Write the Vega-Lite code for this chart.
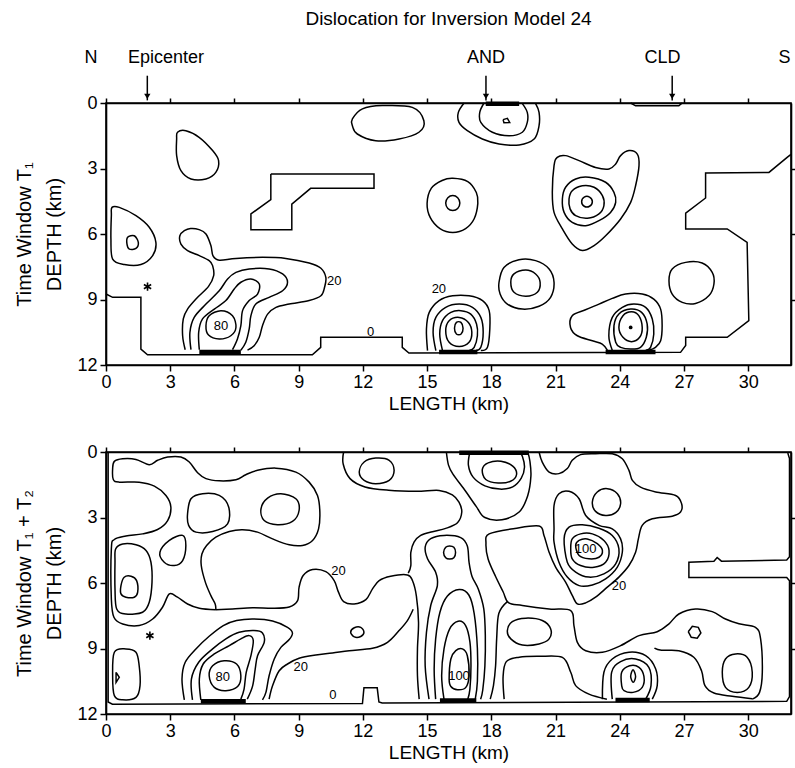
{
"$schema":"https://vega.github.io/schema/vega-lite/v6.json",
"background":"white",
"padding":{"left":14,"top":8,"right":0,"bottom":5},
"config":{"view":{"stroke":"black","strokeWidth":1.6},"axis":{"grid":false,"domainColor":"black","domainWidth":1.6,"tickColor":"black","tickWidth":1.5,"labelColor":"black","titleColor":"black","labelFont":"Liberation Sans","titleFont":"Liberation Sans","titleFontWeight":"normal","labelFlush":false,"labelOverlap":false},"text":{"font":"Liberation Sans","color":"black"}},
"datasets":{
"ann":[{"t":"N","x":-0.7,"y":-2.08},{"t":"Epicenter","x":2.8,"y":-2.08},{"t":"AND","x":17.75,"y":-2.08},{"t":"CLD","x":26.0,"y":-2.08},{"t":"S","x":31.7,"y":-2.08}],
"arrows":[{"x":1.93,"y":-1.25,"y2":-0.12},{"x":17.75,"y":-1.25,"y2":-0.12},{"x":26.45,"y":-1.25,"y2":-0.12}],
"t_poly":[
{"c":"p1","x":0,"y":8.75},{"c":"p1","x":0.31,"y":8.9},{"c":"p1","x":1.63,"y":8.9},{"c":"p1","x":1.63,"y":11.27},{"c":"p1","x":1.94,"y":11.53},{"c":"p1","x":9.64,"y":11.53},{"c":"p1","x":10.03,"y":11.19},{"c":"p1","x":10.03,"y":10.73},{"c":"p1","x":13.84,"y":10.73},{"c":"p1","x":13.84,"y":11.19},{"c":"p1","x":14.15,"y":11.45},{"c":"p1","x":26.84,"y":11.42},{"c":"p1","x":27.08,"y":11.11},{"c":"p1","x":27.08,"y":10.73},{"c":"p1","x":29.02,"y":10.73},{"c":"p1","x":30.03,"y":9.97},{"c":"p1","x":29.95,"y":6.38},{"c":"p1","x":29.02,"y":5.77},{"c":"p1","x":27.08,"y":5.77},{"c":"p1","x":27.08,"y":5.04},{"c":"p1","x":28.01,"y":4.35},{"c":"p1","x":28.01,"y":3.21},{"c":"p1","x":30.97,"y":3.18},{"c":"p1","x":31.82,"y":2.49},{"c":"p1","x":32,"y":2.35},
{"c":"p2","x":7.7,"y":3.25},{"c":"p2","x":12.52,"y":3.25},{"c":"p2","x":12.52,"y":3.91},{"c":"p2","x":9.56,"y":3.91},{"c":"p2","x":8.68,"y":4.63},{"c":"p2","x":8.68,"y":5.8},{"c":"p2","x":6.77,"y":5.8},{"c":"p2","x":6.77,"y":5.08},{"c":"p2","x":7.7,"y":4.43},{"c":"p2","x":7.7,"y":3.25},
{"c":"p3","x":24.51,"y":0},{"c":"p3","x":24.74,"y":0.13},{"c":"p3","x":26.76,"y":0.13},{"c":"p3","x":26.92,"y":0},
{"c":"p4","x":18.55,"y":0.76},{"c":"p4","x":18.75,"y":0.7},{"c":"p4","x":18.86,"y":0.89},{"c":"p4","x":18.59,"y":0.9},{"c":"p4","x":18.55,"y":0.76}],
"t_closed":[
{"c":"a","x":11.51,"y":0.73},{"c":"a","x":11.98,"y":0.27},{"c":"a","x":12.91,"y":0.12},{"c":"a","x":14.31,"y":0.2},{"c":"a","x":14.85,"y":0.81},{"c":"a","x":14.62,"y":1.34},{"c":"a","x":13.69,"y":1.65},{"c":"a","x":12.6,"y":1.73},{"c":"a","x":11.74,"y":1.42},{"c":"a","x":11.51,"y":1.04},
{"c":"b","x":3.34,"y":1.34},{"c":"b","x":3.73,"y":1.27},{"c":"b","x":4.35,"y":1.57},{"c":"b","x":4.98,"y":2.18},{"c":"b","x":5.26,"y":2.64},{"c":"b","x":5.13,"y":3.18},{"c":"b","x":4.67,"y":3.48},{"c":"b","x":3.97,"y":3.48},{"c":"b","x":3.5,"y":3.1},{"c":"b","x":3.3,"y":2.41},{"c":"b","x":3.3,"y":1.65},
{"c":"d","x":0.28,"y":4.78},{"c":"d","x":0.62,"y":4.78},{"c":"d","x":1.4,"y":5.16},{"c":"d","x":2.02,"y":5.69},{"c":"d","x":2.33,"y":6.38},{"c":"d","x":2.18,"y":6.99},{"c":"d","x":1.63,"y":7.4},{"c":"d","x":0.86,"y":7.4},{"c":"d","x":0.31,"y":7.15},{"c":"d","x":0.23,"y":6.23},{"c":"d","x":0.25,"y":5.16},
{"c":"e","x":1.01,"y":6.15},{"c":"e","x":1.32,"y":6.08},{"c":"e","x":1.51,"y":6.38},{"c":"e","x":1.4,"y":6.66},{"c":"e","x":1.09,"y":6.69},{"c":"e","x":0.98,"y":6.46},
{"c":"f","x":4.67,"y":10.2},{"c":"f","x":4.82,"y":9.74},{"c":"f","x":5.37,"y":9.51},{"c":"f","x":5.91,"y":9.74},{"c":"f","x":6.07,"y":10.28},{"c":"f","x":5.83,"y":10.66},{"c":"f","x":5.29,"y":10.81},{"c":"f","x":4.79,"y":10.63},
{"c":"g","x":15.87,"y":10.43},{"c":"g","x":16.03,"y":9.97},{"c":"g","x":16.5,"y":9.82},{"c":"g","x":16.93,"y":10.05},{"c":"g","x":17.09,"y":10.5},{"c":"g","x":16.96,"y":10.96},{"c":"g","x":16.5,"y":11.15},{"c":"g","x":16.03,"y":10.96},
{"c":"h","x":16.28,"y":10.32},{"c":"h","x":16.37,"y":10.05},{"c":"h","x":16.58,"y":10.05},{"c":"h","x":16.68,"y":10.32},{"c":"h","x":16.59,"y":10.58},{"c":"h","x":16.37,"y":10.58},
{"c":"i","x":23.96,"y":10.28},{"c":"i","x":24.15,"y":9.74},{"c":"i","x":24.55,"y":9.56},{"c":"i","x":24.89,"y":9.74},{"c":"i","x":25.05,"y":10.28},{"c":"i","x":24.93,"y":10.73},{"c":"i","x":24.55,"y":10.93},{"c":"i","x":24.15,"y":10.73},
{"c":"j","x":23.81,"y":10.96},{"c":"j","x":23.73,"y":10.2},{"c":"j","x":23.96,"y":9.66},{"c":"j","x":24.51,"y":9.44},{"c":"j","x":25.02,"y":9.59},{"c":"j","x":25.28,"y":10.12},{"c":"j","x":25.24,"y":10.73},{"c":"j","x":24.97,"y":11.19},{"c":"j","x":24.51,"y":11.27},{"c":"j","x":24.04,"y":11.19},
{"c":"k","x":15.0,"y":4.6},{"c":"k","x":15.2,"y":3.9},{"c":"k","x":15.7,"y":3.55},{"c":"k","x":16.2,"y":3.45},{"c":"k","x":16.9,"y":3.6},{"c":"k","x":17.3,"y":4.1},{"c":"k","x":17.37,"y":4.6},{"c":"k","x":17.2,"y":5.3},{"c":"k","x":16.8,"y":5.75},{"c":"k","x":16.2,"y":5.93},{"c":"k","x":15.6,"y":5.75},{"c":"k","x":15.15,"y":5.25},
{"c":"l","x":15.87,"y":4.58},{"c":"l","x":15.97,"y":4.34},{"c":"l","x":16.2,"y":4.24},{"c":"l","x":16.43,"y":4.34},{"c":"l","x":16.53,"y":4.58},{"c":"l","x":16.43,"y":4.83},{"c":"l","x":16.2,"y":4.92},{"c":"l","x":15.97,"y":4.83},
{"c":"m","x":20.93,"y":2.87},{"c":"m","x":21.08,"y":2.49},{"c":"m","x":21.47,"y":2.41},{"c":"m","x":22.1,"y":2.64},{"c":"m","x":22.87,"y":2.95},{"c":"m","x":23.5,"y":3.02},{"c":"m","x":23.81,"y":2.79},{"c":"m","x":24.04,"y":2.41},{"c":"m","x":24.43,"y":2.18},{"c":"m","x":24.82,"y":2.34},{"c":"m","x":24.9,"y":2.87},{"c":"m","x":24.74,"y":3.79},{"c":"m","x":24.51,"y":4.55},{"c":"m","x":24.04,"y":5.31},{"c":"m","x":23.34,"y":6.08},{"c":"m","x":22.8,"y":6.53},{"c":"m","x":22.25,"y":6.76},{"c":"m","x":21.78,"y":6.46},{"c":"m","x":21.32,"y":5.77},{"c":"m","x":20.93,"y":5.01},{"c":"m","x":20.85,"y":4.09},
{"c":"n","x":21.32,"y":4.4},{"c":"n","x":21.47,"y":3.86},{"c":"n","x":21.94,"y":3.48},{"c":"n","x":22.56,"y":3.4},{"c":"n","x":23.34,"y":3.63},{"c":"n","x":23.73,"y":4.09},{"c":"n","x":23.81,"y":4.55},{"c":"n","x":23.57,"y":5.01},{"c":"n","x":23.03,"y":5.39},{"c":"n","x":22.41,"y":5.62},{"c":"n","x":21.78,"y":5.47},{"c":"n","x":21.4,"y":5.01},
{"c":"o","x":21.63,"y":4.4},{"c":"o","x":21.78,"y":4.02},{"c":"o","x":22.25,"y":3.79},{"c":"o","x":22.8,"y":3.86},{"c":"o","x":23.19,"y":4.24},{"c":"o","x":23.26,"y":4.7},{"c":"o","x":23.03,"y":5.08},{"c":"o","x":22.49,"y":5.28},{"c":"o","x":21.94,"y":5.16},{"c":"o","x":21.68,"y":4.85},
{"c":"q","x":22.22,"y":4.52},{"c":"q","x":22.34,"y":4.31},{"c":"q","x":22.59,"y":4.31},{"c":"q","x":22.72,"y":4.52},{"c":"q","x":22.59,"y":4.73},{"c":"q","x":22.34,"y":4.73},
{"c":"r","x":18.36,"y":8.21},{"c":"r","x":18.59,"y":7.53},{"c":"r","x":19.29,"y":7.18},{"c":"r","x":20.07,"y":7.22},{"c":"r","x":20.7,"y":7.6},{"c":"r","x":20.93,"y":8.21},{"c":"r","x":20.77,"y":8.9},{"c":"r","x":20.23,"y":9.31},{"c":"r","x":19.45,"y":9.44},{"c":"r","x":18.75,"y":9.21},{"c":"r","x":18.41,"y":8.75},
{"c":"s","x":18.91,"y":8.21},{"c":"s","x":19.06,"y":7.83},{"c":"s","x":19.61,"y":7.65},{"c":"s","x":20.07,"y":7.83},{"c":"s","x":20.28,"y":8.21},{"c":"s","x":20.15,"y":8.67},{"c":"s","x":19.61,"y":8.85},{"c":"s","x":19.06,"y":8.67},
{"c":"u","x":26.3,"y":8.14},{"c":"u","x":26.45,"y":7.6},{"c":"u","x":27.08,"y":7.3},{"c":"u","x":27.85,"y":7.33},{"c":"u","x":28.32,"y":7.76},{"c":"u","x":28.4,"y":8.29},{"c":"u","x":28.17,"y":8.82},{"c":"u","x":27.54,"y":9.18},{"c":"u","x":26.92,"y":9.13},{"c":"u","x":26.45,"y":8.75}],
"t_open":[
{"c":"A","x":3.7,"y":11.3},{"c":"A","x":3.58,"y":10.66},{"c":"A","x":3.61,"y":9.89},{"c":"A","x":3.81,"y":9.44},{"c":"A","x":4.28,"y":8.9},{"c":"A","x":4.79,"y":8.4},{"c":"A","x":5.03,"y":7.91},{"c":"A","x":4.98,"y":7.45},{"c":"A","x":4.82,"y":7.22},{"c":"A","x":4.36,"y":6.99},{"c":"A","x":3.81,"y":6.76},{"c":"A","x":3.5,"y":6.46},{"c":"A","x":3.45,"y":6.08},{"c":"A","x":3.66,"y":5.85},{"c":"A","x":3.95,"y":5.75},{"c":"A","x":4.35,"y":5.8},{"c":"A","x":4.67,"y":6.0},{"c":"A","x":4.9,"y":6.53},{"c":"A","x":5.0,"y":7.0},{"c":"A","x":5.29,"y":7.2},{"c":"A","x":6.07,"y":7.12},{"c":"A","x":7.31,"y":7.07},{"c":"A","x":8.4,"y":7.12},{"c":"A","x":9.49,"y":7.33},{"c":"A","x":10.04,"y":7.57},{"c":"A","x":10.27,"y":7.99},{"c":"A","x":10.21,"y":8.44},{"c":"A","x":10.04,"y":8.83},{"c":"A","x":9.49,"y":9.05},{"c":"A","x":8.56,"y":9.21},{"c":"A","x":7.94,"y":9.36},{"c":"A","x":7.55,"y":9.67},{"c":"A","x":7.31,"y":10.2},{"c":"A","x":7.16,"y":10.73},{"c":"A","x":6.92,"y":11.12},{"c":"A","x":6.61,"y":11.32},
{"c":"B","x":3.97,"y":11.3},{"c":"B","x":3.92,"y":10.51},{"c":"B","x":4.12,"y":9.82},{"c":"B","x":4.67,"y":9.21},{"c":"B","x":5.29,"y":8.6},{"c":"B","x":5.68,"y":8.06},{"c":"B","x":6.07,"y":7.76},{"c":"B","x":6.69,"y":7.6},{"c":"B","x":7.62,"y":7.6},{"c":"B","x":8.25,"y":7.83},{"c":"B","x":8.48,"y":8.21},{"c":"B","x":8.25,"y":8.6},{"c":"B","x":7.62,"y":8.9},{"c":"B","x":7.0,"y":9.21},{"c":"B","x":6.77,"y":9.74},{"c":"B","x":6.69,"y":10.35},{"c":"B","x":6.53,"y":10.96},{"c":"B","x":6.3,"y":11.32},
{"c":"C","x":4.36,"y":11.3},{"c":"C","x":4.33,"y":10.5},{"c":"C","x":4.51,"y":9.89},{"c":"C","x":5.06,"y":9.44},{"c":"C","x":5.6,"y":9.05},{"c":"C","x":5.99,"y":8.52},{"c":"C","x":6.3,"y":8.21},{"c":"C","x":6.77,"y":8.06},{"c":"C","x":7.16,"y":8.29},{"c":"C","x":7.08,"y":8.75},{"c":"C","x":6.69,"y":9.05},{"c":"C","x":6.38,"y":9.51},{"c":"C","x":6.3,"y":10.2},{"c":"C","x":6.14,"y":10.81},{"c":"C","x":5.91,"y":11.3},
{"c":"D","x":15.02,"y":11.34},{"c":"D","x":14.97,"y":10.35},{"c":"D","x":15.1,"y":9.59},{"c":"D","x":15.56,"y":9.05},{"c":"D","x":16.19,"y":8.83},{"c":"D","x":16.96,"y":8.83},{"c":"D","x":17.59,"y":9.05},{"c":"D","x":17.9,"y":9.51},{"c":"D","x":17.93,"y":10.35},{"c":"D","x":17.82,"y":11.19},{"c":"D","x":17.51,"y":11.34},
{"c":"E","x":15.41,"y":11.34},{"c":"E","x":15.28,"y":10.5},{"c":"E","x":15.41,"y":9.82},{"c":"E","x":15.87,"y":9.36},{"c":"E","x":16.5,"y":9.21},{"c":"E","x":17.12,"y":9.36},{"c":"E","x":17.51,"y":9.82},{"c":"E","x":17.62,"y":10.5},{"c":"E","x":17.51,"y":11.19},{"c":"E","x":17.28,"y":11.34},
{"c":"F","x":15.72,"y":11.34},{"c":"F","x":15.59,"y":10.58},{"c":"F","x":15.72,"y":9.97},{"c":"F","x":16.11,"y":9.59},{"c":"F","x":16.58,"y":9.51},{"c":"F","x":17.04,"y":9.67},{"c":"F","x":17.31,"y":10.12},{"c":"F","x":17.35,"y":10.66},{"c":"F","x":17.2,"y":11.19},{"c":"F","x":16.97,"y":11.34},
{"c":"G","x":23.42,"y":11.32},{"c":"G","x":23.18,"y":11.04},{"c":"G","x":22.72,"y":10.89},{"c":"G","x":22.02,"y":10.66},{"c":"G","x":21.7,"y":10.28},{"c":"G","x":21.78,"y":9.74},{"c":"G","x":22.4,"y":9.47},{"c":"G","x":23.03,"y":9.21},{"c":"G","x":23.65,"y":8.95},{"c":"G","x":24.27,"y":8.75},{"c":"G","x":25.05,"y":8.75},{"c":"G","x":25.59,"y":8.98},{"c":"G","x":25.91,"y":9.44},{"c":"G","x":25.98,"y":10.2},{"c":"G","x":25.91,"y":10.89},{"c":"G","x":25.67,"y":11.19},{"c":"G","x":25.36,"y":11.32},
{"c":"H","x":23.65,"y":11.32},{"c":"H","x":23.49,"y":10.66},{"c":"H","x":23.65,"y":9.82},{"c":"H","x":24.12,"y":9.36},{"c":"H","x":24.66,"y":9.21},{"c":"H","x":25.21,"y":9.36},{"c":"H","x":25.52,"y":9.89},{"c":"H","x":25.59,"y":10.58},{"c":"H","x":25.44,"y":11.19},{"c":"H","x":25.21,"y":11.32},
{"c":"I","x":16.73,"y":0.0},{"c":"I","x":16.46,"y":0.43},{"c":"I","x":16.49,"y":0.89},{"c":"I","x":16.88,"y":1.27},{"c":"I","x":17.58,"y":1.65},{"c":"I","x":18.36,"y":1.88},{"c":"I","x":19.3,"y":1.92},{"c":"I","x":20.0,"y":1.65},{"c":"I","x":20.23,"y":1.04},{"c":"I","x":20.23,"y":0.43},{"c":"I","x":20.07,"y":0.03},
{"c":"J","x":17.66,"y":0.0},{"c":"J","x":17.46,"y":0.43},{"c":"J","x":17.51,"y":0.89},{"c":"J","x":18.05,"y":1.34},{"c":"J","x":18.83,"y":1.5},{"c":"J","x":19.45,"y":1.34},{"c":"J","x":19.68,"y":0.89},{"c":"J","x":19.68,"y":0.43},{"c":"J","x":19.45,"y":0.03}],
"t_bar":[{"c":"1","x":4.36,"y":11.4},{"c":"1","x":6.3,"y":11.4},{"c":"2","x":15.56,"y":11.4},{"c":"2","x":17.35,"y":11.4},{"c":"3","x":23.34,"y":11.4},{"c":"3","x":25.67,"y":11.4},{"c":"4","x":17.74,"y":0.04},{"c":"4","x":19.3,"y":0.04}],
"t_lab":[{"t":"20","x":10.66,"y":8.14},{"t":"20","x":15.55,"y":8.52},{"t":"80","x":5.37,"y":10.2},{"t":"0","x":12.36,"y":10.47}],
"t_star":[{"x":1.94,"y":8.41}],
"t_dot":[{"x":24.51,"y":10.28}],
"b_poly":[
{"c":"p1","x":0.1,"y":0.05},{"c":"p1","x":0.1,"y":11.45},{"c":"p1","x":0.3,"y":11.55},{"c":"p1","x":11.98,"y":11.52},{"c":"p1","x":12.05,"y":10.8},{"c":"p1","x":12.67,"y":10.8},{"c":"p1","x":12.75,"y":11.45},{"c":"p1","x":12.9,"y":11.5},{"c":"p1","x":31.8,"y":11.42},{"c":"p1","x":31.93,"y":11.2},{"c":"p1","x":31.93,"y":5.9},{"c":"p1","x":31.8,"y":5.75},{"c":"p1","x":27.23,"y":5.75},{"c":"p1","x":27.23,"y":5.05},{"c":"p1","x":28.4,"y":5.0},{"c":"p1","x":28.55,"y":4.83},{"c":"p1","x":28.75,"y":5.0},{"c":"p1","x":31.8,"y":4.95},{"c":"p1","x":31.93,"y":4.8},{"c":"p1","x":31.93,"y":0.3},{"c":"p1","x":31.85,"y":0.05},
{"c":"p2","x":0.47,"y":10.09},{"c":"p2","x":0.62,"y":10.32},{"c":"p2","x":0.47,"y":10.55},{"c":"p2","x":0.47,"y":10.09},
{"c":"p3","x":27.2,"y":8.23},{"c":"p3","x":27.39,"y":7.98},{"c":"p3","x":27.67,"y":8.03},{"c":"p3","x":27.79,"y":8.29},{"c":"p3","x":27.62,"y":8.53},{"c":"p3","x":27.34,"y":8.49},{"c":"p3","x":27.2,"y":8.23}],
"b_closed":[
{"c":"a","x":3.81,"y":2.83},{"c":"a","x":3.97,"y":2.14},{"c":"a","x":4.51,"y":1.91},{"c":"a","x":5.29,"y":1.99},{"c":"a","x":5.73,"y":2.52},{"c":"a","x":5.68,"y":3.29},{"c":"a","x":4.98,"y":3.64},{"c":"a","x":4.2,"y":3.67},{"c":"a","x":3.86,"y":3.36},
{"c":"b","x":7.24,"y":2.6},{"c":"b","x":7.55,"y":2.11},{"c":"b","x":8.17,"y":1.91},{"c":"b","x":8.87,"y":2.14},{"c":"b","x":9.02,"y":2.68},{"c":"b","x":8.71,"y":3.18},{"c":"b","x":8.01,"y":3.33},{"c":"b","x":7.39,"y":3.14},
{"c":"d","x":2.52,"y":4.59},{"c":"d","x":2.96,"y":4.05},{"c":"d","x":3.58,"y":3.82},{"c":"d","x":3.73,"y":4.28},{"c":"d","x":3.58,"y":4.97},{"c":"d","x":3.19,"y":5.2},{"c":"d","x":2.72,"y":5.05},
{"c":"e","x":0.45,"y":4.44},{"c":"e","x":0.78,"y":4.21},{"c":"e","x":1.4,"y":4.25},{"c":"e","x":1.87,"y":4.51},{"c":"e","x":2.1,"y":5.05},{"c":"e","x":2.15,"y":5.96},{"c":"e","x":2.02,"y":6.88},{"c":"e","x":1.71,"y":7.34},{"c":"e","x":0.93,"y":7.42},{"c":"e","x":0.5,"y":7.19},{"c":"e","x":0.42,"y":6.27},{"c":"e","x":0.42,"y":5.05},
{"c":"f","x":0.7,"y":6.12},{"c":"f","x":0.85,"y":5.74},{"c":"f","x":1.17,"y":5.69},{"c":"f","x":1.43,"y":5.89},{"c":"f","x":1.48,"y":6.42},{"c":"f","x":1.32,"y":6.65},{"c":"f","x":0.93,"y":6.65},{"c":"f","x":0.7,"y":6.5},
{"c":"g","x":0.39,"y":9.17},{"c":"g","x":0.93,"y":9.02},{"c":"g","x":1.4,"y":9.17},{"c":"g","x":1.55,"y":9.79},{"c":"g","x":1.59,"y":10.7},{"c":"g","x":1.4,"y":11.24},{"c":"g","x":0.78,"y":11.35},{"c":"g","x":0.39,"y":11.16},{"c":"g","x":0.31,"y":10.25},
{"c":"h","x":4.82,"y":10.25},{"c":"h","x":4.98,"y":9.79},{"c":"h","x":5.52,"y":9.56},{"c":"h","x":6.1,"y":9.71},{"c":"h","x":6.3,"y":10.25},{"c":"h","x":6.15,"y":10.74},{"c":"h","x":5.6,"y":10.93},{"c":"h","x":5.06,"y":10.78},
{"c":"i","x":11.83,"y":0.92},{"c":"i","x":12.06,"y":0.46},{"c":"i","x":12.6,"y":0.28},{"c":"i","x":13.23,"y":0.38},{"c":"i","x":13.46,"y":0.84},{"c":"i","x":13.23,"y":1.3},{"c":"i","x":12.6,"y":1.45},{"c":"i","x":12.06,"y":1.3},
{"c":"j","x":11.43,"y":8.25},{"c":"j","x":11.6,"y":8.05},{"c":"j","x":11.9,"y":8.03},{"c":"j","x":12.05,"y":8.25},{"c":"j","x":11.9,"y":8.45},{"c":"j","x":11.6,"y":8.47},
{"c":"k","x":15.77,"y":4.6},{"c":"k","x":15.87,"y":4.36},{"c":"k","x":16.05,"y":4.3},{"c":"k","x":16.25,"y":4.36},{"c":"k","x":16.33,"y":4.6},{"c":"k","x":16.25,"y":4.84},{"c":"k","x":16.05,"y":4.9},{"c":"k","x":15.87,"y":4.84},
{"c":"l","x":16.03,"y":10.4},{"c":"l","x":16.11,"y":9.48},{"c":"l","x":16.34,"y":9.1},{"c":"l","x":16.65,"y":9.02},{"c":"l","x":16.88,"y":9.33},{"c":"l","x":16.96,"y":10.25},{"c":"l","x":16.81,"y":10.78},{"c":"l","x":16.42,"y":10.89},{"c":"l","x":16.11,"y":10.74},
{"c":"m","x":17.58,"y":0.8},{"c":"m","x":17.85,"y":0.5},{"c":"m","x":18.45,"y":0.42},{"c":"m","x":19.0,"y":0.65},{"c":"m","x":19.18,"y":1.03},{"c":"m","x":18.9,"y":1.34},{"c":"m","x":18.32,"y":1.42},{"c":"m","x":17.74,"y":1.26},
{"c":"n","x":21.94,"y":4.28},{"c":"n","x":22.1,"y":4.05},{"c":"n","x":22.48,"y":3.98},{"c":"n","x":22.95,"y":4.2},{"c":"n","x":23.19,"y":4.51},{"c":"n","x":23.03,"y":4.82},{"c":"n","x":22.56,"y":4.89},{"c":"n","x":22.1,"y":4.74},
{"c":"o","x":21.71,"y":4.43},{"c":"o","x":21.78,"y":3.98},{"c":"o","x":22.17,"y":3.75},{"c":"o","x":22.72,"y":3.75},{"c":"o","x":23.26,"y":4.05},{"c":"o","x":23.5,"y":4.51},{"c":"o","x":23.34,"y":5.05},{"c":"o","x":22.8,"y":5.28},{"c":"o","x":22.17,"y":5.2},{"c":"o","x":21.78,"y":4.89},
{"c":"q","x":21.4,"y":3.98},{"c":"q","x":21.63,"y":3.44},{"c":"q","x":22.25,"y":3.33},{"c":"q","x":23.03,"y":3.49},{"c":"q","x":23.65,"y":3.82},{"c":"q","x":23.96,"y":4.43},{"c":"q","x":23.81,"y":5.12},{"c":"q","x":23.26,"y":5.58},{"c":"q","x":22.56,"y":5.73},{"c":"q","x":21.94,"y":5.5},{"c":"q","x":21.55,"y":5.05},
{"c":"r","x":20.93,"y":3.52},{"c":"r","x":20.93,"y":2.45},{"c":"r","x":21.16,"y":1.91},{"c":"r","x":21.63,"y":1.8},{"c":"r","x":22.1,"y":2.14},{"c":"r","x":22.41,"y":2.91},{"c":"r","x":23.03,"y":3.36},{"c":"r","x":23.65,"y":3.52},{"c":"r","x":24.04,"y":3.98},{"c":"r","x":24.12,"y":4.59},{"c":"r","x":23.88,"y":5.28},{"c":"r","x":23.34,"y":5.81},{"c":"r","x":22.72,"y":6.09},{"c":"r","x":22.1,"y":6.12},{"c":"r","x":21.55,"y":5.73},{"c":"r","x":21.16,"y":5.05},{"c":"r","x":20.93,"y":4.13},
{"c":"s","x":22.72,"y":2.29},{"c":"s","x":22.95,"y":1.83},{"c":"s","x":23.42,"y":1.68},{"c":"s","x":23.89,"y":1.91},{"c":"s","x":24.04,"y":2.37},{"c":"s","x":23.81,"y":2.78},{"c":"s","x":23.34,"y":2.91},{"c":"s","x":22.87,"y":2.72},
{"c":"u","x":18.75,"y":8.18},{"c":"u","x":18.98,"y":7.77},{"c":"u","x":19.61,"y":7.61},{"c":"u","x":20.38,"y":7.72},{"c":"u","x":20.77,"y":8.1},{"c":"u","x":20.7,"y":8.56},{"c":"u","x":20.23,"y":8.79},{"c":"u","x":19.45,"y":8.84},{"c":"u","x":18.91,"y":8.56},
{"c":"v","x":24.09,"y":10.7},{"c":"v","x":24.09,"y":10.09},{"c":"v","x":24.46,"y":9.79},{"c":"v","x":24.9,"y":9.86},{"c":"v","x":25.13,"y":10.28},{"c":"v","x":25.05,"y":10.78},{"c":"v","x":24.62,"y":11.01},{"c":"v","x":24.2,"y":10.93},
{"c":"w","x":24.51,"y":10.28},{"c":"w","x":24.62,"y":9.97},{"c":"w","x":24.74,"y":10.28},{"c":"w","x":24.63,"y":10.55},
{"c":"z","x":28.79,"y":10.09},{"c":"z","x":28.94,"y":9.48},{"c":"z","x":29.41,"y":9.25},{"c":"z","x":29.95,"y":9.4},{"c":"z","x":30.19,"y":10.09},{"c":"z","x":30.03,"y":10.78},{"c":"z","x":29.49,"y":11.01},{"c":"z","x":28.94,"y":10.78}],
"b_open":[
{"c":"A","x":5.13,"y":7.23},{"c":"A","x":5.1,"y":6.96},{"c":"A","x":4.9,"y":6.58},{"c":"A","x":4.64,"y":5.96},{"c":"A","x":4.45,"y":5.2},{"c":"A","x":4.48,"y":4.67},{"c":"A","x":4.7,"y":4.28},{"c":"A","x":5.13,"y":3.9},{"c":"A","x":5.76,"y":3.64},{"c":"A","x":6.38,"y":3.56},{"c":"A","x":7.08,"y":3.67},{"c":"A","x":7.78,"y":3.98},{"c":"A","x":8.56,"y":4.25},{"c":"A","x":9.18,"y":4.28},{"c":"A","x":9.65,"y":4.05},{"c":"A","x":9.93,"y":3.52},{"c":"A","x":9.99,"y":2.75},{"c":"A","x":9.88,"y":1.99},{"c":"A","x":9.49,"y":1.38},{"c":"A","x":8.87,"y":0.92},{"c":"A","x":7.94,"y":0.74},{"c":"A","x":7.08,"y":0.84},{"c":"A","x":6.53,"y":1.04},{"c":"A","x":6.07,"y":1.27},{"c":"A","x":5.29,"y":1.32},{"c":"A","x":4.67,"y":1.22},{"c":"A","x":4.28,"y":0.95},{"c":"A","x":3.89,"y":0.46},{"c":"A","x":3.5,"y":0.23},{"c":"A","x":2.88,"y":0.23},{"c":"A","x":2.41,"y":0.38},{"c":"A","x":2.02,"y":0.58},{"c":"A","x":1.4,"y":0.34},{"c":"A","x":0.78,"y":0.31},{"c":"A","x":0.39,"y":0.43},{"c":"A","x":0.31,"y":0.77},{"c":"A","x":0.34,"y":1.26},{"c":"A","x":0.62,"y":1.38},{"c":"A","x":1.55,"y":1.38},{"c":"A","x":2.26,"y":1.56},{"c":"A","x":2.8,"y":1.99},{"c":"A","x":3.03,"y":2.52},{"c":"A","x":2.88,"y":3.14},{"c":"A","x":2.41,"y":3.55},{"c":"A","x":1.71,"y":3.75},{"c":"A","x":0.93,"y":3.85},{"c":"A","x":0.39,"y":4.01},{"c":"A","x":0.25,"y":4.44},{"c":"A","x":0.25,"y":6.73},{"c":"A","x":0.37,"y":7.57},{"c":"A","x":0.78,"y":7.88},{"c":"A","x":1.55,"y":7.95},{"c":"A","x":2.18,"y":7.65},{"c":"A","x":2.64,"y":7.11},{"c":"A","x":2.96,"y":6.5},{"c":"A","x":3.34,"y":6.65},{"c":"A","x":3.81,"y":6.96},{"c":"A","x":4.36,"y":7.16},{"c":"A","x":5.13,"y":7.23},
{"c":"B","x":5.13,"y":7.23},{"c":"B","x":5.91,"y":7.19},{"c":"B","x":6.85,"y":7.13},{"c":"B","x":7.78,"y":7.16},{"c":"B","x":8.56,"y":7.1},{"c":"B","x":8.95,"y":6.81},{"c":"B","x":9.02,"y":6.19},{"c":"B","x":9.21,"y":5.66},{"c":"B","x":9.65,"y":5.38},{"c":"B","x":10.27,"y":5.48},{"c":"B","x":10.66,"y":5.89},{"c":"B","x":10.86,"y":6.42},{"c":"B","x":11.1,"y":6.85},{"c":"B","x":11.59,"y":6.96},{"c":"B","x":12.14,"y":6.76},{"c":"B","x":12.45,"y":6.27},{"c":"B","x":12.76,"y":5.89},{"c":"B","x":13.3,"y":5.69},{"c":"B","x":14.08,"y":5.63},{"c":"B","x":14.32,"y":5.9},{"c":"B","x":14.5,"y":6.6},{"c":"B","x":14.6,"y":7.8},{"c":"B","x":14.55,"y":9.02},{"c":"B","x":14.55,"y":10.25},{"c":"B","x":14.63,"y":11.32},
{"c":"C","x":11.1,"y":0.0},{"c":"C","x":11.08,"y":0.55},{"c":"C","x":11.4,"y":1.22},{"c":"C","x":12.1,"y":1.6},{"c":"C","x":13.2,"y":1.75},{"c":"C","x":14.5,"y":1.8},{"c":"C","x":15.56,"y":1.76},{"c":"C","x":16.18,"y":1.96},{"c":"C","x":16.49,"y":2.3},{"c":"C","x":16.62,"y":2.75},{"c":"C","x":16.42,"y":3.24},{"c":"C","x":15.87,"y":3.5},{"c":"C","x":15.25,"y":3.65},{"c":"C","x":14.7,"y":3.82},{"c":"C","x":14.39,"y":4.13},{"c":"C","x":14.24,"y":4.6},{"c":"C","x":14.24,"y":5.2},{"c":"C","x":14.12,"y":5.55},
{"c":"D","x":15.9,"y":0.0},{"c":"D","x":16.0,"y":0.6},{"c":"D","x":16.2,"y":1.0},{"c":"D","x":16.8,"y":1.8},{"c":"D","x":17.3,"y":2.5},{"c":"D","x":17.7,"y":3.0},{"c":"D","x":18.5,"y":3.1},{"c":"D","x":19.3,"y":2.75},{"c":"D","x":19.7,"y":2.0},{"c":"D","x":19.85,"y":1.1},{"c":"D","x":19.8,"y":0.4},{"c":"D","x":19.7,"y":0.0},
{"c":"E","x":17.0,"y":0.0},{"c":"E","x":16.93,"y":0.6},{"c":"E","x":17.15,"y":1.15},{"c":"E","x":17.7,"y":1.55},{"c":"E","x":18.4,"y":1.7},{"c":"E","x":19.0,"y":1.6},{"c":"E","x":19.4,"y":1.2},{"c":"E","x":19.55,"y":0.7},{"c":"E","x":19.45,"y":0.2},{"c":"E","x":19.3,"y":0.0},
{"c":"F","x":20.23,"y":0.0},{"c":"F","x":20.38,"y":0.46},{"c":"F","x":20.7,"y":0.92},{"c":"F","x":21.16,"y":0.99},{"c":"F","x":21.55,"y":0.76},{"c":"F","x":21.78,"y":0.38},{"c":"F","x":22.17,"y":0.12},{"c":"F","x":22.87,"y":0.08},{"c":"F","x":23.65,"y":0.08},{"c":"F","x":24.12,"y":0.31},{"c":"F","x":24.43,"y":0.84},{"c":"F","x":24.59,"y":1.3},{"c":"F","x":24.97,"y":1.61},{"c":"F","x":25.68,"y":1.83},{"c":"F","x":26.61,"y":1.99},{"c":"F","x":26.89,"y":2.37},{"c":"F","x":26.84,"y":2.75},{"c":"F","x":26.45,"y":2.94},{"c":"F","x":25.52,"y":3.06},{"c":"F","x":25.05,"y":3.36},{"c":"F","x":24.87,"y":3.98},{"c":"F","x":24.74,"y":4.59},{"c":"F","x":24.43,"y":5.2},{"c":"F","x":23.96,"y":5.73},{"c":"F","x":23.42,"y":6.19},{"c":"F","x":22.87,"y":6.65},{"c":"F","x":22.41,"y":6.91},{"c":"F","x":22.02,"y":6.96},{"c":"F","x":21.78,"y":6.57},{"c":"F","x":21.47,"y":5.96},{"c":"F","x":21.01,"y":5.28},{"c":"F","x":20.7,"y":4.59},{"c":"F","x":20.46,"y":3.82},{"c":"F","x":20.23,"y":3.39},{"c":"F","x":19.1,"y":3.5},{"c":"F","x":17.9,"y":3.75},{"c":"F","x":17.75,"y":4.2},{"c":"F","x":17.85,"y":4.9},{"c":"F","x":18.2,"y":5.7},{"c":"F","x":18.55,"y":6.4},{"c":"F","x":18.8,"y":6.9},{"c":"F","x":19.45,"y":7.03},{"c":"F","x":20.7,"y":7.19},{"c":"F","x":21.71,"y":7.26},{"c":"F","x":21.86,"y":7.95},{"c":"F","x":22.02,"y":8.72},{"c":"F","x":22.41,"y":9.1},{"c":"F","x":23.19,"y":9.17},{"c":"F","x":24.04,"y":8.87},{"c":"F","x":24.9,"y":8.41},{"c":"F","x":25.75,"y":8.23},{"c":"F","x":26.3,"y":7.87},{"c":"F","x":26.76,"y":7.42},{"c":"F","x":27.54,"y":7.19},{"c":"F","x":28.32,"y":7.31},{"c":"F","x":28.94,"y":7.65},{"c":"F","x":29.57,"y":7.87},{"c":"F","x":30.34,"y":8.03},{"c":"F","x":30.58,"y":8.56},{"c":"F","x":30.66,"y":10.09},{"c":"F","x":30.53,"y":11.01},{"c":"F","x":30.19,"y":11.32},
{"c":"G","x":18.75,"y":6.85},{"c":"G","x":18.35,"y":7.4},{"c":"G","x":18.25,"y":8.56},{"c":"G","x":18.2,"y":9.79},{"c":"G","x":18.1,"y":10.7},{"c":"G","x":17.95,"y":11.32},
{"c":"H","x":18.6,"y":11.32},{"c":"H","x":18.55,"y":10.3},{"c":"H","x":18.7,"y":9.6},{"c":"H","x":19.3,"y":9.4},{"c":"H","x":20.23,"y":9.36},{"c":"H","x":21.32,"y":9.41},{"c":"H","x":21.71,"y":10.09},{"c":"H","x":21.94,"y":10.7},{"c":"H","x":22.56,"y":11.09},{"c":"H","x":23.4,"y":11.32},
{"c":"I","x":15.79,"y":11.32},{"c":"I","x":15.68,"y":10.25},{"c":"I","x":15.79,"y":9.02},{"c":"I","x":16.05,"y":8.11},{"c":"I","x":16.45,"y":7.75},{"c":"I","x":16.8,"y":7.95},{"c":"I","x":17.0,"y":8.7},{"c":"I","x":17.05,"y":9.79},{"c":"I","x":17.0,"y":10.86},{"c":"I","x":16.9,"y":11.32},
{"c":"J","x":15.4,"y":11.32},{"c":"J","x":15.33,"y":9.94},{"c":"J","x":15.4,"y":8.56},{"c":"J","x":15.6,"y":7.34},{"c":"J","x":15.95,"y":6.6},{"c":"J","x":16.5,"y":6.3},{"c":"J","x":16.95,"y":6.55},{"c":"J","x":17.2,"y":7.4},{"c":"J","x":17.35,"y":9.0},{"c":"J","x":17.35,"y":10.5},{"c":"J","x":17.25,"y":11.32},
{"c":"K","x":15.09,"y":11.32},{"c":"K","x":14.91,"y":9.79},{"c":"K","x":14.97,"y":8.26},{"c":"K","x":15.17,"y":7.03},{"c":"K","x":15.48,"y":6.12},{"c":"K","x":15.4,"y":5.51},{"c":"K","x":15.02,"y":4.89},{"c":"K","x":14.91,"y":4.36},{"c":"K","x":15.17,"y":3.97},{"c":"K","x":15.79,"y":3.82},{"c":"K","x":16.57,"y":3.92},{"c":"K","x":16.88,"y":4.31},{"c":"K","x":16.96,"y":5.05},{"c":"K","x":17.1,"y":5.7},{"c":"K","x":17.4,"y":6.3},{"c":"K","x":17.65,"y":7.2},{"c":"K","x":17.72,"y":8.4},{"c":"K","x":17.7,"y":9.8},{"c":"K","x":17.6,"y":10.9},{"c":"K","x":17.5,"y":11.32},
{"c":"L","x":3.66,"y":11.35},{"c":"L","x":3.55,"y":10.4},{"c":"L","x":3.7,"y":9.63},{"c":"L","x":4.2,"y":9.02},{"c":"L","x":4.82,"y":8.44},{"c":"L","x":5.48,"y":7.95},{"c":"L","x":6.1,"y":7.72},{"c":"L","x":6.88,"y":7.65},{"c":"L","x":7.78,"y":7.74},{"c":"L","x":8.48,"y":8.03},{"c":"L","x":8.71,"y":8.29},{"c":"L","x":8.56,"y":8.59},{"c":"L","x":8.17,"y":8.95},{"c":"L","x":7.86,"y":9.48},{"c":"L","x":7.62,"y":10.25},{"c":"L","x":7.47,"y":11.01},{"c":"L","x":7.31,"y":11.35},
{"c":"M","x":4.04,"y":11.35},{"c":"M","x":3.99,"y":10.4},{"c":"M","x":4.33,"y":9.63},{"c":"M","x":4.98,"y":9.02},{"c":"M","x":5.6,"y":8.56},{"c":"M","x":6.22,"y":8.26},{"c":"M","x":6.92,"y":8.18},{"c":"M","x":7.31,"y":8.29},{"c":"M","x":7.39,"y":8.72},{"c":"M","x":7.08,"y":9.33},{"c":"M","x":6.97,"y":9.94},{"c":"M","x":6.85,"y":10.71},{"c":"M","x":6.6,"y":11.32},
{"c":"N","x":4.43,"y":11.35},{"c":"N","x":4.36,"y":10.4},{"c":"N","x":4.54,"y":9.71},{"c":"N","x":5.06,"y":9.25},{"c":"N","x":5.76,"y":8.87},{"c":"N","x":6.3,"y":8.56},{"c":"N","x":6.69,"y":8.41},{"c":"N","x":6.88,"y":8.64},{"c":"N","x":6.77,"y":9.33},{"c":"N","x":6.55,"y":10.09},{"c":"N","x":6.45,"y":10.86},{"c":"N","x":6.3,"y":11.32},
{"c":"O","x":7.62,"y":11.32},{"c":"O","x":7.78,"y":10.71},{"c":"O","x":8.09,"y":10.02},{"c":"O","x":8.48,"y":9.71},{"c":"O","x":9.02,"y":9.45},{"c":"O","x":9.8,"y":9.3},{"c":"O","x":10.58,"y":9.21},{"c":"O","x":11.36,"y":9.1},{"c":"O","x":12.45,"y":8.99},{"c":"O","x":13.15,"y":8.72},{"c":"O","x":13.69,"y":8.18},{"c":"O","x":14.08,"y":7.72},{"c":"O","x":14.35,"y":7.2},
{"c":"P","x":23.19,"y":11.32},{"c":"P","x":23.26,"y":10.09},{"c":"P","x":23.65,"y":9.48},{"c":"P","x":24.43,"y":9.17},{"c":"P","x":25.21,"y":9.33},{"c":"P","x":25.68,"y":9.94},{"c":"P","x":25.75,"y":10.7},{"c":"P","x":25.52,"y":11.32},
{"c":"Q","x":23.65,"y":11.32},{"c":"Q","x":23.62,"y":10.09},{"c":"Q","x":24.04,"y":9.6},{"c":"Q","x":24.74,"y":9.48},{"c":"Q","x":25.36,"y":9.86},{"c":"Q","x":25.46,"y":10.7},{"c":"Q","x":25.21,"y":11.32},
{"c":"R","x":25.62,"y":8.98},{"c":"R","x":25.95,"y":9.08},{"c":"R","x":26.76,"y":9.1},{"c":"R","x":27.46,"y":9.4},{"c":"R","x":27.82,"y":10.02},{"c":"R","x":27.98,"y":10.7},{"c":"R","x":28.4,"y":11.04},{"c":"R","x":29.25,"y":11.19},{"c":"R","x":30.19,"y":11.3}],
"b_bar":[{"c":"1","x":4.43,"y":11.42},{"c":"1","x":6.53,"y":11.42},{"c":"2","x":15.6,"y":11.38},{"c":"2","x":17.3,"y":11.38},{"c":"3","x":23.8,"y":11.36},{"c":"3","x":25.4,"y":11.36},{"c":"4","x":16.5,"y":0.04},{"c":"4","x":19.75,"y":0.04}],
"b_lab":[{"t":"20","x":10.86,"y":5.43},{"t":"20","x":23.96,"y":6.12},{"t":"20","x":9.1,"y":9.86},{"t":"80","x":5.45,"y":10.32},{"t":"100","x":16.49,"y":10.25},{"t":"100","x":22.41,"y":4.46},{"t":"0","x":10.6,"y":11.15}],
"b_star":[{"x":2.05,"y":8.41}]
},
"vconcat":[
{"title":{"text":"Dislocation for Inversion Model 24","anchor":"middle","frame":"group","offset":20,"fontSize":19,"font":"Liberation Sans","fontWeight":"normal","color":"black"},
"width":685,"height":262,
"layer":[
{"data":{"name":"t_poly"},"mark":{"type":"line","interpolate":"linear","color":"black","strokeWidth":1.5},
"encoding":{"x":{"field":"x","type":"quantitative","scale":{"domain":[0,32],"nice":false,"zero":false},"axis":{"orient":"bottom","values":[0,3,6,9,12,15,18,21,24,27,30],"title":"LENGTH (km)","tickSize":6,"labelPadding":2,"titlePadding":3,"labelFontSize":18,"titleFontSize":19}},
"y":{"field":"y","type":"quantitative","scale":{"domain":[0,12],"reverse":true,"nice":false,"zero":false},"axis":{"orient":"left","values":[0,3,6,9,12],"title":["Time Window T₁","DEPTH (km)"],"tickSize":6,"labelPadding":3,"titlePadding":12,"labelFontSize":18,"titleFontSize":20,"titleLineHeight":30}},
"detail":{"field":"c"},"order":{"value":null}}},
{"data":{"name":"t_closed"},"mark":{"type":"line","interpolate":"cardinal-closed","color":"black","strokeWidth":1.5},
"encoding":{"x":{"field":"x","type":"quantitative","scale":{"domain":[0,32],"nice":false,"zero":false},"axis":{"orient":"top","values":[0,3,6,9,12,15,18,21,24,27,30],"labels":false,"title":null,"tickSize":5}},
"y":{"field":"y","type":"quantitative","scale":{"domain":[0,12],"reverse":true,"nice":false,"zero":false},"axis":{"orient":"right","values":[3,6,9],"labels":false,"title":null,"tickSize":5}},
"detail":{"field":"c"},"order":{"value":null}}},
{"data":{"name":"t_open"},"mark":{"type":"line","interpolate":"cardinal","color":"black","strokeWidth":1.5},
"encoding":{"x":{"field":"x","type":"quantitative","scale":{"domain":[0,32],"nice":false,"zero":false},"axis":null},
"y":{"field":"y","type":"quantitative","scale":{"domain":[0,12],"reverse":true,"nice":false,"zero":false},"axis":null},
"detail":{"field":"c"},"order":{"value":null}}},
{"data":{"name":"t_bar"},"mark":{"type":"line","color":"black","strokeWidth":4.5},
"encoding":{"x":{"field":"x","type":"quantitative","scale":{"domain":[0,32],"nice":false,"zero":false},"axis":null},
"y":{"field":"y","type":"quantitative","scale":{"domain":[0,12],"reverse":true,"nice":false,"zero":false},"axis":null},
"detail":{"field":"c"}}},
{"data":{"name":"t_lab"},"mark":{"type":"text","fontSize":13,"baseline":"middle","align":"center"},
"encoding":{"x":{"field":"x","type":"quantitative","scale":{"domain":[0,32],"nice":false,"zero":false},"axis":null},
"y":{"field":"y","type":"quantitative","scale":{"domain":[0,12],"reverse":true,"nice":false,"zero":false},"axis":null},
"text":{"field":"t"}}},
{"data":{"name":"ann"},"mark":{"type":"text","fontSize":18,"baseline":"middle","align":"center"},
"encoding":{"x":{"field":"x","type":"quantitative","scale":{"domain":[0,32],"nice":false,"zero":false},"axis":null},
"y":{"field":"y","type":"quantitative","scale":{"domain":[0,12],"reverse":true,"nice":false,"zero":false},"axis":null},
"text":{"field":"t"}}},
{"data":{"name":"arrows"},"mark":{"type":"rule","color":"black","strokeWidth":1.5},
"encoding":{"x":{"field":"x","type":"quantitative","scale":{"domain":[0,32],"nice":false,"zero":false},"axis":null},
"y":{"field":"y","type":"quantitative","scale":{"domain":[0,12],"reverse":true,"nice":false,"zero":false},"axis":null},
"y2":{"field":"y2"}}},
{"data":{"name":"arrows"},"mark":{"type":"point","shape":"triangle-down","filled":true,"color":"black","size":40,"opacity":1,"yOffset":-4},
"encoding":{"x":{"field":"x","type":"quantitative","scale":{"domain":[0,32],"nice":false,"zero":false},"axis":null},
"y":{"field":"y2","type":"quantitative","scale":{"domain":[0,12],"reverse":true,"nice":false,"zero":false},"axis":null}}},
{"data":{"name":"t_star"},"mark":{"type":"point","shape":"M0,-1L0,1M-0.87,-0.5L0.87,0.5M-0.87,0.5L0.87,-0.5","filled":false,"color":"black","strokeWidth":1.6,"size":70,"opacity":1},
"encoding":{"x":{"field":"x","type":"quantitative","scale":{"domain":[0,32],"nice":false,"zero":false},"axis":null},
"y":{"field":"y","type":"quantitative","scale":{"domain":[0,12],"reverse":true,"nice":false,"zero":false},"axis":null}}},
{"data":{"name":"t_dot"},"mark":{"type":"point","shape":"circle","filled":true,"color":"black","size":14,"opacity":1},
"encoding":{"x":{"field":"x","type":"quantitative","scale":{"domain":[0,32],"nice":false,"zero":false},"axis":null},
"y":{"field":"y","type":"quantitative","scale":{"domain":[0,12],"reverse":true,"nice":false,"zero":false},"axis":null}}}
],
"resolve":{"axis":{"x":"independent","y":"independent"}}},
{"width":685,"height":262,
"layer":[
{"data":{"name":"b_poly"},"mark":{"type":"line","interpolate":"linear","color":"black","strokeWidth":1.5},
"encoding":{"x":{"field":"x","type":"quantitative","scale":{"domain":[0,32],"nice":false,"zero":false},"axis":{"orient":"bottom","values":[0,3,6,9,12,15,18,21,24,27,30],"title":"LENGTH (km)","tickSize":6,"labelPadding":2,"titlePadding":3,"labelFontSize":18,"titleFontSize":19}},
"y":{"field":"y","type":"quantitative","scale":{"domain":[0,12],"reverse":true,"nice":false,"zero":false},"axis":{"orient":"left","values":[0,3,6,9,12],"title":["Time Window T₁ + T₂","DEPTH (km)"],"tickSize":6,"labelPadding":3,"titlePadding":12,"labelFontSize":18,"titleFontSize":20,"titleLineHeight":30}},
"detail":{"field":"c"},"order":{"value":null}}},
{"data":{"name":"b_closed"},"mark":{"type":"line","interpolate":"cardinal-closed","color":"black","strokeWidth":1.5},
"encoding":{"x":{"field":"x","type":"quantitative","scale":{"domain":[0,32],"nice":false,"zero":false},"axis":{"orient":"top","values":[0,3,6,9,12,15,18,21,24,27,30],"labels":false,"title":null,"tickSize":5}},
"y":{"field":"y","type":"quantitative","scale":{"domain":[0,12],"reverse":true,"nice":false,"zero":false},"axis":{"orient":"right","values":[3,6,9],"labels":false,"title":null,"tickSize":5}},
"detail":{"field":"c"},"order":{"value":null}}},
{"data":{"name":"b_open"},"mark":{"type":"line","interpolate":"cardinal","color":"black","strokeWidth":1.5},
"encoding":{"x":{"field":"x","type":"quantitative","scale":{"domain":[0,32],"nice":false,"zero":false},"axis":null},
"y":{"field":"y","type":"quantitative","scale":{"domain":[0,12],"reverse":true,"nice":false,"zero":false},"axis":null},
"detail":{"field":"c"},"order":{"value":null}}},
{"data":{"name":"b_bar"},"mark":{"type":"line","color":"black","strokeWidth":4.5},
"encoding":{"x":{"field":"x","type":"quantitative","scale":{"domain":[0,32],"nice":false,"zero":false},"axis":null},
"y":{"field":"y","type":"quantitative","scale":{"domain":[0,12],"reverse":true,"nice":false,"zero":false},"axis":null},
"detail":{"field":"c"}}},
{"data":{"name":"b_lab"},"mark":{"type":"text","fontSize":13,"baseline":"middle","align":"center"},
"encoding":{"x":{"field":"x","type":"quantitative","scale":{"domain":[0,32],"nice":false,"zero":false},"axis":null},
"y":{"field":"y","type":"quantitative","scale":{"domain":[0,12],"reverse":true,"nice":false,"zero":false},"axis":null},
"text":{"field":"t"}}},
{"data":{"name":"b_star"},"mark":{"type":"point","shape":"M0,-1L0,1M-0.87,-0.5L0.87,0.5M-0.87,0.5L0.87,-0.5","filled":false,"color":"black","strokeWidth":1.6,"size":70,"opacity":1},
"encoding":{"x":{"field":"x","type":"quantitative","scale":{"domain":[0,32],"nice":false,"zero":false},"axis":null},
"y":{"field":"y","type":"quantitative","scale":{"domain":[0,12],"reverse":true,"nice":false,"zero":false},"axis":null}}}
],
"resolve":{"axis":{"x":"independent","y":"independent"}}}
],
"spacing":28
}
